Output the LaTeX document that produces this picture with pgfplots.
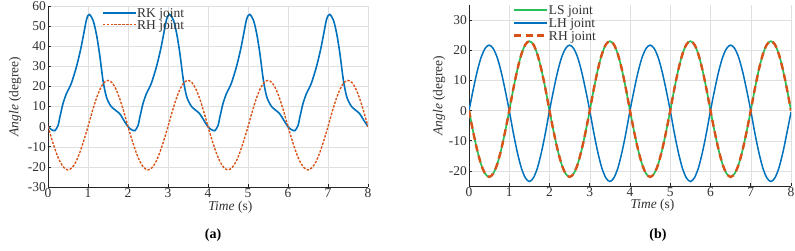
\documentclass[border=0pt]{standalone}
\usepackage{fontspec}
\setmainfont{Liberation Serif}
\usepackage{pgfplots}
\pgfplotsset{compat=1.18}
\definecolor{mblue}{RGB}{0,114,189}
\definecolor{morange}{RGB}{217,83,25}
\definecolor{mgreen}{RGB}{40,190,90}
\pgfplotsset{
  myax/.style={
    scale only axis,
    height=181pt,
    xmin=0, xmax=8,
    xtick={0,1,...,8},
    axis x line=bottom, axis y line=left,
    axis line style={-, black!85, line width=0.8pt},
    tick style={black!85, line width=0.6pt},
    tick align=inside,
    major tick length=3pt,
    grid=major,
    grid style={gray!25, line width=0.5pt},
    tick label style={font=\fontsize{13.5}{15}\selectfont, text=black!80},
    xticklabel style={inner sep=1pt},
    yticklabel style={inner sep=2pt},
    /pgf/number format/assume math mode=true,
    label style={font=\fontsize{13.5}{15}\selectfont, text=black!80},
    xlabel={\textit{Time} (s)},
    ylabel={\textit{Angle} (degree)},
    legend cell align=left,
    legend style={draw=none, fill=none, inner sep=0pt,
      font=\fontsize{13.5}{15}\selectfont, text=black!80,
      nodes={inner sep=0.6pt, text depth=0pt}},
    legend image code/.code={\draw[##1] (0pt,0pt) -- (33pt,0pt);},
  }
}
\begin{document}
\begin{tikzpicture}
\path[use as bounding box] (0,0) rectangle (795pt,250pt);
\begin{axis}[myax,
  at={(48pt,63pt)}, anchor=south west,
  width=320pt,
  ymin=-30, ymax=60, ytick={-30,-20,...,60},
  xlabel style={at={(axis description cs:0.57,-0.112)}, anchor=center},
  ylabel style={at={(axis description cs:-0.103,0.5)}, anchor=center},
  legend style={at={(axis description cs:0.168,0.99)}, anchor=north west, row sep=1.5pt},
]
\addplot[mblue, line width=1.6pt, smooth, tension=0.45] coordinates {
(0,0)(0.08,-1.4)(0.17,-2.0)(0.25,0.5)(0.3,5)(0.375,11.5)(0.46,16.4)(0.58,21.4)(0.71,29.7)(0.83,39.7)(0.96,53)(1.03,55.8)(1.125,53)(1.21,46)(1.29,36)(1.375,23)(1.46,14.8)(1.58,10)(1.79,6.5)(1.9,3)
(2,0)(2.08,-1.4)(2.17,-2.0)(2.25,0.5)(2.3,5)(2.375,11.5)(2.46,16.4)(2.58,21.4)(2.71,29.7)(2.83,39.7)(2.96,53)(3.04,55.8)(3.135,53)(3.22,46)(3.3,36)(3.385,23)(3.47,14.8)(3.59,10)(3.79,6.5)(3.9,3)
(4,0)(4.08,-1.4)(4.17,-2.0)(4.25,0.5)(4.3,5)(4.375,11.5)(4.46,16.4)(4.58,21.4)(4.71,29.7)(4.83,39.7)(4.96,53)(5.04,55.8)(5.135,53)(5.22,46)(5.3,36)(5.385,23)(5.47,14.8)(5.59,10)(5.79,6.5)(5.9,3)
(6,0)(6.08,-1.4)(6.17,-2.0)(6.25,0.5)(6.3,5)(6.375,11.5)(6.46,16.4)(6.58,21.4)(6.71,29.7)(6.83,39.7)(6.96,53)(7.04,55.8)(7.135,53)(7.22,46)(7.3,36)(7.385,23)(7.47,14.8)(7.59,10)(7.79,6.5)(7.9,3)
(8,0)
};
\addlegendentry{RK joint}
\addplot[morange, line width=1.4pt, smooth, dash pattern=on 2.4pt off 1.5pt] coordinates {
(0,0)(0.1,-6.6)(0.2,-12.6)(0.3,-17.4)(0.4,-20.4)(0.5,-21.5)(0.6,-20.4)(0.7,-17.4)(0.8,-12.6)(0.9,-6.6)(1,0)(1.1,7.1)(1.2,13.5)(1.3,18.6)(1.4,21.9)(1.5,23)(1.6,21.9)(1.7,18.6)(1.8,13.5)(1.9,7.1)
(2,0)(2.1,-6.6)(2.2,-12.6)(2.3,-17.4)(2.4,-20.4)(2.5,-21.5)(2.6,-20.4)(2.7,-17.4)(2.8,-12.6)(2.9,-6.6)(3,0)(3.1,7.1)(3.2,13.5)(3.3,18.6)(3.4,21.9)(3.5,23)(3.6,21.9)(3.7,18.6)(3.8,13.5)(3.9,7.1)
(4,0)(4.1,-6.6)(4.2,-12.6)(4.3,-17.4)(4.4,-20.4)(4.5,-21.5)(4.6,-20.4)(4.7,-17.4)(4.8,-12.6)(4.9,-6.6)(5,0)(5.1,7.1)(5.2,13.5)(5.3,18.6)(5.4,21.9)(5.5,23)(5.6,21.9)(5.7,18.6)(5.8,13.5)(5.9,7.1)
(6,0)(6.1,-6.6)(6.2,-12.6)(6.3,-17.4)(6.4,-20.4)(6.5,-21.5)(6.6,-20.4)(6.7,-17.4)(6.8,-12.6)(6.9,-6.6)(7,0)(7.1,7.1)(7.2,13.5)(7.3,18.6)(7.4,21.9)(7.5,23)(7.6,21.9)(7.7,18.6)(7.8,13.5)(7.9,7.1)
(8,0)
};
\addlegendentry{RH joint}
\end{axis}

\begin{axis}[myax,
  at={(469pt,64pt)}, anchor=south west,
  width=322pt,
  ymin=-25, ymax=35, ytick={-20,-10,...,30},
  xlabel style={at={(axis description cs:0.57,-0.105)}, anchor=center},
  ylabel style={at={(axis description cs:-0.093,0.5)}, anchor=center},
  legend style={at={(axis description cs:0.136,1.0)}, anchor=north west, row sep=2.5pt},
]
\addplot[mgreen, line width=1.7pt, smooth] coordinates {
(0,0)(0.1,-6.8)(0.2,-12.9)(0.3,-17.8)(0.4,-20.9)(0.5,-22)(0.6,-20.9)(0.7,-17.8)(0.8,-12.9)(0.9,-6.8)(1,0)(1.1,7.1)(1.2,13.5)(1.3,18.6)(1.4,21.9)(1.5,23)(1.6,21.9)(1.7,18.6)(1.8,13.5)(1.9,7.1)
(2,0)(2.1,-6.8)(2.2,-12.9)(2.3,-17.8)(2.4,-20.9)(2.5,-22)(2.6,-20.9)(2.7,-17.8)(2.8,-12.9)(2.9,-6.8)(3,0)(3.1,7.1)(3.2,13.5)(3.3,18.6)(3.4,21.9)(3.5,23)(3.6,21.9)(3.7,18.6)(3.8,13.5)(3.9,7.1)
(4,0)(4.1,-6.8)(4.2,-12.9)(4.3,-17.8)(4.4,-20.9)(4.5,-22)(4.6,-20.9)(4.7,-17.8)(4.8,-12.9)(4.9,-6.8)(5,0)(5.1,7.1)(5.2,13.5)(5.3,18.6)(5.4,21.9)(5.5,23)(5.6,21.9)(5.7,18.6)(5.8,13.5)(5.9,7.1)
(6,0)(6.1,-6.8)(6.2,-12.9)(6.3,-17.8)(6.4,-20.9)(6.5,-22)(6.6,-20.9)(6.7,-17.8)(6.8,-12.9)(6.9,-6.8)(7,0)(7.1,7.1)(7.2,13.5)(7.3,18.6)(7.4,21.9)(7.5,23)(7.6,21.9)(7.7,18.6)(7.8,13.5)(7.9,7.1)
(8,0)
};
\addlegendentry{LS joint}
\addplot[mblue, line width=1.5pt, smooth] coordinates {
(0,0)(0.1,6.7)(0.2,12.8)(0.3,17.6)(0.4,20.6)(0.5,21.7)(0.6,20.6)(0.7,17.6)(0.8,12.8)(0.9,6.7)(1,0)(1.1,-7.3)(1.2,-13.8)(1.3,-19.0)(1.4,-22.3)(1.5,-23.5)(1.6,-22.3)(1.7,-19.0)(1.8,-13.8)(1.9,-7.3)
(2,0)(2.1,6.7)(2.2,12.8)(2.3,17.6)(2.4,20.6)(2.5,21.7)(2.6,20.6)(2.7,17.6)(2.8,12.8)(2.9,6.7)(3,0)(3.1,-7.3)(3.2,-13.8)(3.3,-19.0)(3.4,-22.3)(3.5,-23.5)(3.6,-22.3)(3.7,-19.0)(3.8,-13.8)(3.9,-7.3)
(4,0)(4.1,6.7)(4.2,12.8)(4.3,17.6)(4.4,20.6)(4.5,21.7)(4.6,20.6)(4.7,17.6)(4.8,12.8)(4.9,6.7)(5,0)(5.1,-7.3)(5.2,-13.8)(5.3,-19.0)(5.4,-22.3)(5.5,-23.5)(5.6,-22.3)(5.7,-19.0)(5.8,-13.8)(5.9,-7.3)
(6,0)(6.1,6.7)(6.2,12.8)(6.3,17.6)(6.4,20.6)(6.5,21.7)(6.6,20.6)(6.7,17.6)(6.8,12.8)(6.9,6.7)(7,0)(7.1,-7.3)(7.2,-13.8)(7.3,-19.0)(7.4,-22.3)(7.5,-23.5)(7.6,-22.3)(7.7,-19.0)(7.8,-13.8)(7.9,-7.3)
(8,-0.5)
};
\addlegendentry{LH joint}
\addplot[morange, line width=2.4pt, smooth, dash pattern=on 7pt off 4.5pt] coordinates {
(0,0)(0.1,-6.8)(0.2,-12.9)(0.3,-17.8)(0.4,-20.9)(0.5,-22)(0.6,-20.9)(0.7,-17.8)(0.8,-12.9)(0.9,-6.8)(1,0)(1.1,7.1)(1.2,13.5)(1.3,18.6)(1.4,21.9)(1.5,23)(1.6,21.9)(1.7,18.6)(1.8,13.5)(1.9,7.1)
(2,0)(2.1,-6.8)(2.2,-12.9)(2.3,-17.8)(2.4,-20.9)(2.5,-22)(2.6,-20.9)(2.7,-17.8)(2.8,-12.9)(2.9,-6.8)(3,0)(3.1,7.1)(3.2,13.5)(3.3,18.6)(3.4,21.9)(3.5,23)(3.6,21.9)(3.7,18.6)(3.8,13.5)(3.9,7.1)
(4,0)(4.1,-6.8)(4.2,-12.9)(4.3,-17.8)(4.4,-20.9)(4.5,-22)(4.6,-20.9)(4.7,-17.8)(4.8,-12.9)(4.9,-6.8)(5,0)(5.1,7.1)(5.2,13.5)(5.3,18.6)(5.4,21.9)(5.5,23)(5.6,21.9)(5.7,18.6)(5.8,13.5)(5.9,7.1)
(6,0)(6.1,-6.8)(6.2,-12.9)(6.3,-17.8)(6.4,-20.9)(6.5,-22)(6.6,-20.9)(6.7,-17.8)(6.8,-12.9)(6.9,-6.8)(7,0)(7.1,7.1)(7.2,13.5)(7.3,18.6)(7.4,21.9)(7.5,23)(7.6,21.9)(7.7,18.6)(7.8,13.5)(7.9,7.1)
(8,0)
};
\addlegendentry{RH joint}
\end{axis}
\node[font=\bfseries\fontsize{14}{16}\selectfont] at (213pt,15pt) {(a)};
\node[font=\bfseries\fontsize{14}{16}\selectfont] at (658pt,15pt) {(b)};
\end{tikzpicture}
\end{document}
